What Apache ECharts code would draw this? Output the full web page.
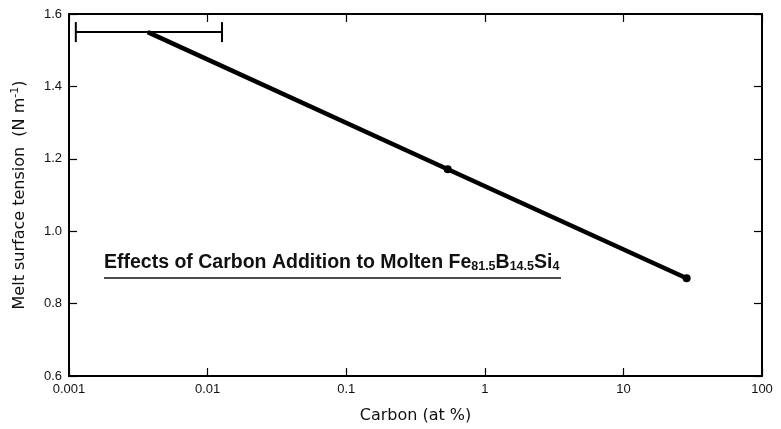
<!DOCTYPE html>
<html>
<head>
<meta charset="utf-8">
<script src="https://cdn.jsdelivr.net/npm/echarts@6/dist/echarts.min.js"></script>
<style>
  html, body { margin: 0; padding: 0; background: #fff; }
  #chart { width: 781px; height: 429px; }
</style>
</head>
<body>
<div id="chart"></div>
<script>
// Carbon content (at %) and melt surface tension (N/m)
const carbon = [0.0037, 0.54, 28.6];
const tension = [1.55, 1.171, 0.870];
// Horizontal spread of the lowest-carbon measurement
const errLow = [0.00112];
const errHigh = [0.0127];
const errY = [1.55];
const xTickLabels = ['0.001', '0.01', '0.1', '1', '10', '100'];
const yTickLabels = ['0.6', '0.8', '1.0', '1.2', '1.4', '1.6'];

const chart = echarts.init(document.getElementById('chart'));

const lineData = carbon.map((c, i) => ({
  value: [c, tension[i]],
  symbolSize: i === 0 ? 0 : 8
}));

const errData = errLow.map((lo, i) => [lo, errHigh[i], errY[i]]);

const tickFont = { fontFamily: 'Liberation Sans', fontSize: 13, color: '#111' };
const nameFont = 'DejaVu Sans';

function fmtX(v) {
  const e = Math.round(Math.log10(v));
  return xTickLabels[e + 3] !== undefined ? xTickLabels[e + 3] : '';
}
function fmtY(v) {
  const idx = Math.round((v - 0.6) / 0.2);
  return yTickLabels[idx] !== undefined ? yTickLabels[idx] : '';
}

const axisLine = { show: true, lineStyle: { color: '#000', width: 2 } };
const tick = { show: true, inside: true, length: 8, lineStyle: { color: '#000', width: 1.2 } };

chart.setOption({
  backgroundColor: '#fff',
  animation: false,
  grid: { left: 69, right: 19, top: 14, bottom: 53 },
  xAxis: [
    {
      type: 'log', logBase: 10, min: 0.001, max: 100,
      axisLine: axisLine,
      axisTick: tick,
      minorTick: { show: false },
      splitLine: { show: false },
      axisLabel: Object.assign({ margin: 7, formatter: fmtX }, tickFont),
      name: 'Carbon (at %)',
      nameLocation: 'middle',
      nameGap: 32,
      nameTextStyle: { fontFamily: nameFont, fontSize: 16, color: '#111' }
    },
    {
      type: 'log', logBase: 10, min: 0.001, max: 100, position: 'top',
      axisLine: axisLine,
      axisTick: tick,
      axisLabel: { show: false },
      splitLine: { show: false }
    }
  ],
  yAxis: [
    {
      type: 'value', min: 0.6, max: 1.6, interval: 0.2,
      axisLine: axisLine,
      axisTick: tick,
      splitLine: { show: false },
      axisLabel: Object.assign({ margin: 7, formatter: fmtY }, tickFont),
      name: 'Melt surface tension  (N m{sup|-1})',
      nameLocation: 'middle',
      nameGap: 39,
      nameRotate: 90,
      nameTextStyle: {
        fontFamily: nameFont, fontSize: 16, color: '#111',
        rich: { sup: { fontFamily: nameFont, fontSize: 11, color: '#111', verticalAlign: 'top', padding: [0, 0, 9, 0] } }
      }
    },
    {
      type: 'value', min: 0.6, max: 1.6, interval: 0.2, position: 'right',
      axisLine: axisLine,
      axisTick: tick,
      splitLine: { show: false },
      axisLabel: { show: false }
    }
  ],
  series: [
    {
      type: 'line',
      data: lineData,
      symbol: 'circle',
      lineStyle: { color: '#000', width: 4.5 },
      itemStyle: { color: '#000' },
      z: 3
    },
    {
      type: 'custom',
      data: errData,
      renderItem: function (params, api) {
        const y = api.value(2);
        const p1 = api.coord([api.value(0), y]);
        const p2 = api.coord([api.value(1), y]);
        const cap = 10;
        const style = { stroke: '#000', lineWidth: 2 };
        return {
          type: 'group',
          children: [
            { type: 'line', shape: { x1: p1[0], y1: p1[1], x2: p2[0], y2: p2[1] }, style: style },
            { type: 'line', shape: { x1: p1[0], y1: p1[1] - cap, x2: p1[0], y2: p1[1] + cap }, style: style },
            { type: 'line', shape: { x1: p2[0], y1: p2[1] - cap, x2: p2[0], y2: p2[1] + cap }, style: style }
          ]
        };
      },
      z: 2
    }
  ],
  graphic: [
    {
      type: 'text',
      left: 104,
      top: 253,
      style: {
        text: 'Effects of Carbon Addition to Molten Fe{sub|81.5}B{sub|14.5}Si{sub|4}',
        fontFamily: 'Liberation Sans',
        fontWeight: 'bold',
        fontSize: 19.5,
        fill: '#111',
        rich: {
          sub: { fontFamily: 'Liberation Sans', fontWeight: 'bold', fontSize: 12.5, fill: '#111', verticalAlign: 'bottom', padding: [6, 0, 0, 0] }
        }
      }
    },
    {
      type: 'line',
      shape: { x1: 104, y1: 278, x2: 561, y2: 278 },
      style: { stroke: '#111', lineWidth: 1.5 }
    }
  ]
});
</script>
</body>
</html>
